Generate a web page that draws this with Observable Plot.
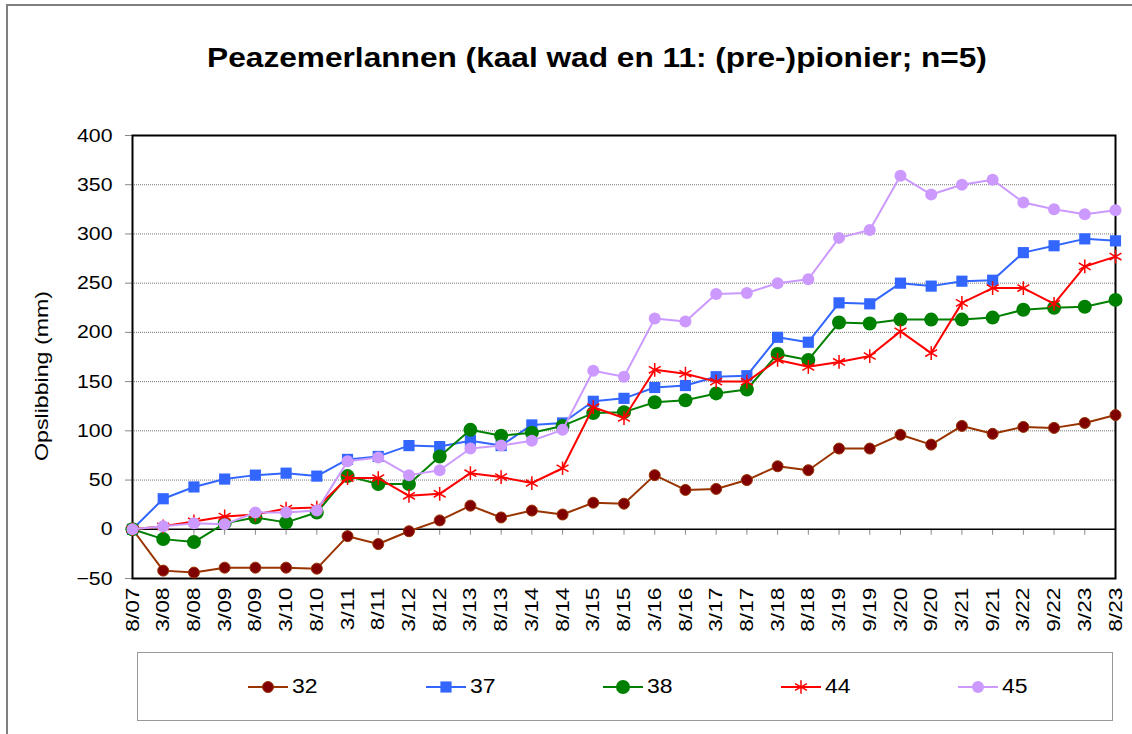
<!DOCTYPE html>
<html><head><meta charset="utf-8">
<script src="https://cdn.jsdelivr.net/npm/d3@7"></script>
<script src="https://cdn.jsdelivr.net/npm/@observablehq/plot@0.6"></script>
<style>
body{margin:0;background:#fff;overflow:hidden;font-family:Arial,"Liberation Sans",sans-serif;}
#wrap{position:relative;width:1132px;height:734px;overflow:hidden;}
#frame{position:absolute;left:6px;top:4px;width:1200px;height:800px;border:2px solid #7f7f7f;}
#title{position:absolute;left:0;width:1194px;top:42px;text-align:center;font-weight:bold;font-size:28px;color:#000;transform:scaleX(1.13);transform-origin:597px 50%;}
#chart{position:absolute;left:0;top:0;}
#ylabel{position:absolute;left:42px;top:376px;transform:translate(-50%,-50%) rotate(-90deg) scaleX(1.22);font-size:19px;white-space:nowrap;}
#legend{position:absolute;left:137px;top:652px;width:976px;height:69px;border:1.5px solid #999;box-sizing:border-box;}
.entry{position:absolute;top:0;height:100%;display:flex;align-items:center;font-size:20px;}
.entry svg{margin-right:3px;}
.entry span{display:inline-block;transform:scaleX(1.15);transform-origin:0 50%;}
</style></head>
<body>
<div id="wrap">
  <div id="frame"></div>
  <div id="chart"></div>
  <div id="title">Peazemerlannen (kaal wad en 11: (pre-)pionier; n=5)</div>
  <div id="ylabel">Opslibbing (mm)</div>
  <div id="legend"></div>
</div>
<script>
const dates = ["8/07","3/08","8/08","3/09","8/09","3/10","8/10","3/11","8/11","3/12","8/12","3/13","8/13","3/14","8/14","3/15","8/15","3/16","8/16","3/17","8/17","3/18","8/18","3/19","9/19","3/20","9/20","3/21","9/21","3/22","9/22","3/23","8/23"];

const s32 = [0,-42,-44,-39,-39,-39,-40,-7,-15,-2,9,24,12,19,15,27,26,55,40,41,50,64,60,82,82,96,86,105,97,104,103,108,116];
const s37 = [0,31,43,51,55,57,54,71,74,85,84,90,85,106,108,130,133,144,146,155,156,195,190,230,229,250,247,252,253,281,288,295,293];
const s38 = [0,-10,-13,6,12,7,17,54,46,46,74,101,95,98,105,118,119,129,131,138,142,178,172,210,209,213,213,213,215,223,225,226,233];
const s44 = [0,3,8,13,15,21,22,52,52,34,36,57,53,47,62,124,113,162,158,150,150,172,165,170,176,201,179,230,245,245,229,267,277];
const s45 = [0,3,6,5,17,17,19,69,73,55,60,82,85,90,101,161,155,214,211,239,240,250,254,296,304,359,340,350,355,332,325,320,324];

const seriesNames = ["32","37","38","44","45"];
const seriesValues = [s32, s37, s38, s44, s45];
const lineColors = ["#993300","#3366FF","#008000","#FF0000","#CC99FF"];
const dotFills = ["#800000","#3366FF","#008000","none","#CC99FF"];
const dotStrokes = ["#993300","none","none","#FF0000","none"];
const symbols = ["circle","square","circle","asterisk","circle"];
const radii = [5.5, 6.3, 7, 6.5, 6];

const yTicks = [-50,0,50,100,150,200,250,300,350,400];
const gridVals = [50,100,150,200,250,300,350];

const seriesMarks = [];
seriesNames.forEach((name, k) => {
  const rows = dates.map((d, i) => ({date: d, value: seriesValues[k][i], series: name}));
  seriesMarks.push(Plot.line(rows, {x: "date", y: "value", stroke: lineColors[k], strokeWidth: 2}));
  seriesMarks.push(Plot.dot(rows, {x: "date", y: "value", symbol: () => symbols[k], r: radii[k],
    fill: dotFills[k], stroke: dotStrokes[k], strokeWidth: symbols[k] === "asterisk" ? 1.5 : 1}));
});

const chart = Plot.plot({
  width: 1132, height: 660,
  marginLeft: 132, marginRight: 17, marginTop: 135, marginBottom: 82,
  style: {fontFamily: "Arial, 'Liberation Sans', sans-serif", fontSize: "18px", color: "black", background: "transparent", overflow: "visible"},
  x: {type: "point", domain: dates, padding: 0, round: false, label: null},
  y: {domain: [-50, 400], label: null},
  marks: [
    Plot.ruleY(gridVals, {stroke: "#777", strokeDasharray: "1,1", strokeWidth: 1}),
    Plot.axisY({ticks: yTicks, tickSize: 7, tickPadding: 13, stroke: "#888", fill: "black", fontSize: 19, label: null}),
    Plot.axisX({tickRotate: -90, tickSize: 0, tickPadding: 9, fontSize: 19, fill: "black", label: null}),
    Plot.ruleX(dates, {x: d => d, y1: 0, y2: 0, insetBottom: -6, stroke: "#888"}),
    Plot.ruleY([0], {stroke: "black", strokeWidth: 1.5}),
    Plot.frame({stroke: "black", strokeWidth: 2}),
    ...seriesMarks
  ]
});
document.getElementById("chart").appendChild(chart);

// widen axis text horizontally (in its own reading direction) as in the reference
function stretch(el, s) {
  const t = el.getAttribute("transform");
  if (t) el.setAttribute("transform", t + ` scale(${s},1)`);
  else {
    const x = +el.getAttribute("x") || 0, y = +el.getAttribute("y") || 0;
    el.setAttribute("transform", `translate(${x},${y}) scale(${s},1) translate(${-x},${-y})`);
  }
}
chart.querySelectorAll('[aria-label="y-axis tick label"] text').forEach(el => stretch(el, 1.12));
chart.querySelectorAll('[aria-label="x-axis tick label"] text').forEach(el => stretch(el, 1.2));

// legend
const legend = document.getElementById("legend");
seriesNames.forEach((name, k) => {
  const e = document.createElement("div");
  e.className = "entry";
  e.style.left = (109 + k * 177.5) + "px";
  const svg = d3.create("svg").attr("width", 42).attr("height", 20);
  svg.append("line").attr("x1", 1).attr("x2", 41).attr("y1", 10).attr("y2", 10)
    .attr("stroke", lineColors[k]).attr("stroke-width", 2);
  const symMap = {circle: d3.symbolCircle, square: d3.symbolSquare, asterisk: d3.symbolAsterisk};
  svg.append("path").attr("transform", "translate(21,10)")
    .attr("d", d3.symbol(symMap[symbols[k]], Math.PI * radii[k] * radii[k])())
    .attr("fill", dotFills[k]).attr("stroke", dotStrokes[k]).attr("stroke-width", symbols[k] === "asterisk" ? 1.5 : 1);
  e.appendChild(svg.node());
  const t = document.createElement("span");
  t.textContent = name;
  e.appendChild(t);
  legend.appendChild(e);
});
</script>
</body></html>
